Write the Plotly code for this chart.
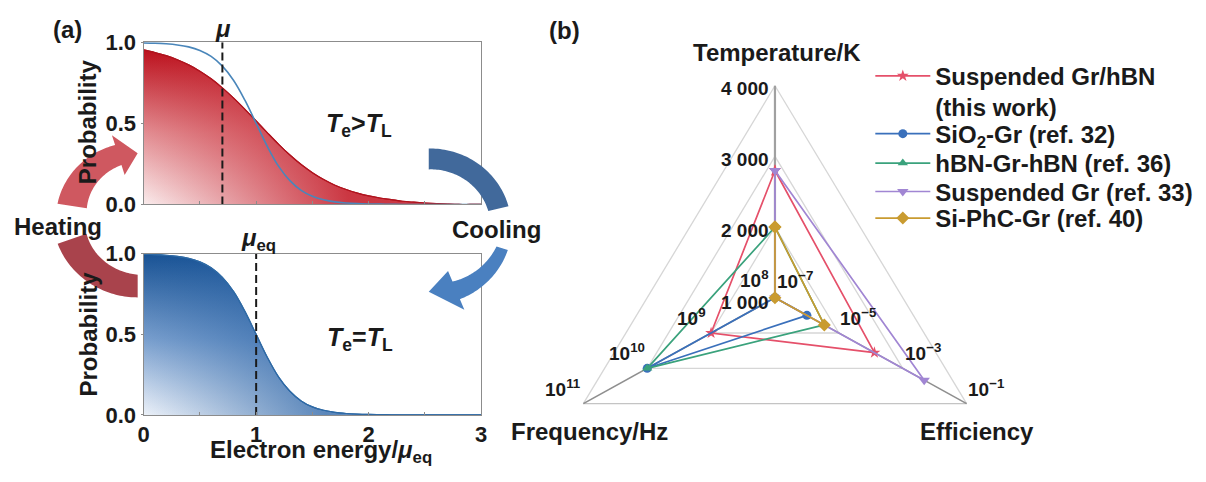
import numpy as np
import plotly.graph_objects as go

W, H = 1206, 482
FONT = "Liberation Sans, Arial, sans-serif"

# ---------------- Panel (a) data ----------------
energy = [0.0, 0.1, 0.2, 0.3, 0.4, 0.5, 0.6, 0.7, 0.8, 0.9, 1.0,
          1.1, 1.2, 1.3, 1.4, 1.5, 1.6, 1.7, 1.8, 1.9, 2.0,
          2.1, 2.2, 2.3, 2.4, 2.5, 2.6, 2.7, 2.8, 2.9, 3.0]
hot_occupation = [0.953, 0.937, 0.918, 0.893, 0.861, 0.822, 0.775, 0.719, 0.656, 0.587, 0.515,
                  0.442, 0.371, 0.305, 0.246, 0.196, 0.154, 0.119, 0.092, 0.070, 0.053,
                  0.040, 0.030, 0.020, 0.014, 0.009, 0.005, 0.002, 0.0, 0.0, 0.0]
cold_occupation = [0.997, 0.995, 0.991, 0.984, 0.972, 0.950, 0.913, 0.853, 0.765, 0.643, 0.500,
                   0.357, 0.235, 0.147, 0.087, 0.050, 0.029, 0.016, 0.009, 0.005, 0.003,
                   0.002, 0.001, 0.0, 0.0, 0.0, 0.0, 0.0, 0.0, 0.0, 0.0]
mu_hot = 0.7
mu_eq = 1.0
prob_ticks = [0.0, 0.5, 1.0]
prob_ticktext = ["0.0", "0.5", "1.0"]
energy_ticks = [0, 1, 2, 3]
energy_ticktext = ["0", "1", "2", "3"]

# ---------------- Panel (b) data ----------------
series_names = ["Suspended Gr/hBN<br>(this work)", "SiO<sub>2</sub>-Gr (ref. 32)",
                "hBN-Gr-hBN (ref. 36)", "Suspended Gr (ref. 33)", "Si-PhC-Gr (ref. 40)"]
temperature_K = [2800, 1000, 2000, 2800, 2000]
efficiency = [1.3e-4, 1.0e-6, 3.5e-6, 4.7e-3, 3.5e-6]
frequency_Hz = [1.0e9, 1.0e10, 1.0e10, 1.0e8, 1.0e8]
series_colors = ["#e5506a", "#3a70bb", "#3aa27c", "#a186d3", "#c99b30"]
series_symbols = ["star", "circle", "triangle-up", "triangle-down", "diamond"]
series_sizes = [9, 9, 9, 10, 10]

temp_ticks = [1000, 2000, 3000, 4000]
temp_ticktext = ["1 000", "2 000", "3 000", "4 000"]
freq_ticks = [1e8, 1e9, 1e10, 1e11]
freq_ticktext = ["10<sup>8</sup>", "10<sup>9</sup>", "10<sup>10</sup>", "10<sup>11</sup>"]
eff_ticks = [1e-7, 1e-5, 1e-3, 1e-1]
eff_ticktext = ["10<sup>−7</sup>", "10<sup>−5</sup>", "10<sup>−3</sup>", "10<sup>−1</sup>"]

# ---------------- helpers ----------------
def px(x, y):
    return x / W, 1 - y / H

T_MIN, T_MAX = 1000, 4000
F_MIN, F_MAX = 8, 11
E_MIN, E_MAX = -7, -1
ANG = {"T": 90, "E": -30, "F": 210}


def norm_T(t):
    return (t - T_MIN) / (T_MAX - T_MIN)


def norm_F(f):
    return (np.log10(f) - F_MIN) / (F_MAX - F_MIN)


def norm_E(e):
    return (np.log10(e) - E_MIN) / (E_MAX - E_MIN)


def polar_xy(r, axis):
    a = np.radians(ANG[axis])
    return r * np.cos(a), r * np.sin(a)


fig = go.Figure()

# ---------------- Panel (a) traces ----------------
RED_DARK = "rgb(188,18,30)"
BLUE_DARK = "rgb(24,82,148)"

fig.add_trace(go.Scatter(
    x=energy, y=hot_occupation, mode="lines", line=dict(color="rgb(175,20,30)", width=1.2, shape="spline"),
    fill="tozeroy",
    fillgradient=dict(type="vertical", start=0, stop=0.95,
                      colorscale=[[0, "rgb(253,248,248)"], [0.5, "rgb(226,140,145)"], [1, RED_DARK]]),
    showlegend=False, hoverinfo="skip", xaxis="x", yaxis="y"))
fig.add_trace(go.Scatter(
    x=energy, y=hot_occupation, mode="lines", line=dict(color="rgb(175,20,30)", width=1.2, shape="spline"),
    fill="tozeroy",
    fillgradient=dict(type="horizontal", start=0, stop=1.8,
                      colorscale=[[0, "rgba(195,25,38,0)"], [1, "rgba(195,25,38,0.85)"]]),
    showlegend=False, hoverinfo="skip", xaxis="x", yaxis="y"))
fig.add_trace(go.Scatter(
    x=energy, y=cold_occupation, mode="lines", line=dict(color="#4a86ba", width=1.6, shape="spline"),
    showlegend=False, hoverinfo="skip", xaxis="x", yaxis="y"))
fig.add_trace(go.Scatter(
    x=[mu_hot, mu_hot], y=[0, 1], mode="lines", line=dict(color="#1a1a1a", width=2, dash="8px,4px"),
    showlegend=False, hoverinfo="skip", xaxis="x", yaxis="y"))

fig.add_trace(go.Scatter(
    x=energy, y=cold_occupation, mode="lines", line=dict(color="#2f6aa5", width=1.2, shape="spline"),
    fill="tozeroy",
    fillgradient=dict(type="vertical", start=0, stop=1,
                      colorscale=[[0, "rgb(250,251,254)"], [0.5, "rgb(120,158,205)"], [1, BLUE_DARK]]),
    showlegend=False, hoverinfo="skip", xaxis="x2", yaxis="y2"))
fig.add_trace(go.Scatter(
    x=energy, y=cold_occupation, mode="lines", line=dict(color="#2f6aa5", width=1.2, shape="spline"),
    fill="tozeroy",
    fillgradient=dict(type="horizontal", start=0, stop=1.6,
                      colorscale=[[0, "rgba(30,90,160,0)"], [1, "rgba(30,90,160,0.7)"]]),
    showlegend=False, hoverinfo="skip", xaxis="x2", yaxis="y2"))
fig.add_trace(go.Scatter(
    x=[mu_eq, mu_eq], y=[0, 1], mode="lines", line=dict(color="#1a1a1a", width=2, dash="8px,4px"),
    showlegend=False, hoverinfo="skip", xaxis="x2", yaxis="y2"))

# ---------------- Panel (b) radar (cartesian projection) ----------------
shapes = []
GRID = "#d6d6d6"
for lvl in [1 / 3, 2 / 3, 1.0]:
    pts = [polar_xy(lvl, k) for k in ["T", "E", "F", "T"]]
    for (x0, y0), (x1, y1) in zip(pts[:-1], pts[1:]):
        col = GRID
        if lvl == 1.0 and abs(y0 - y1) < 1e-9:
            col = "#c4c4c4"
        shapes.append(dict(type="line", xref="x3", yref="y3", x0=x0, y0=y0, x1=x1, y1=y1,
                           line=dict(color=col, width=1.3), layer="below"))
for k, wdt, col in [("T", 2.2, "#a0a0a0"), ("E", 1.6, "#8f8f8f"), ("F", 1.6, "#8f8f8f")]:
    x1, y1 = polar_xy(1.0, k)
    shapes.append(dict(type="line", xref="x3", yref="y3", x0=0, y0=0, x1=x1, y1=y1,
                       line=dict(color=col, width=wdt), layer="below"))

legend_ids = ["legend", "legend2", "legend3", "legend4", "legend5"]
for i, name in enumerate(series_names):
    pT = polar_xy(norm_T(temperature_K[i]), "T")
    pE = polar_xy(norm_E(efficiency[i]), "E")
    pF = polar_xy(norm_F(frequency_Hz[i]), "F")
    xs = [pT[0], pE[0], pF[0], pT[0]]
    ys = [pT[1], pE[1], pF[1], pT[1]]
    fig.add_trace(go.Scatter(
        x=xs, y=ys, mode="lines+markers", name=name, legend=legend_ids[i],
        line=dict(color=series_colors[i], width=1.7),
        marker=dict(symbol=series_symbols[i], size=series_sizes[i], color=series_colors[i]),
        xaxis="x3", yaxis="y3", cliponaxis=False, hoverinfo="skip"))

# ---------------- Annotations ----------------
ann = []
BIG = 24


def add_text(text, x, y, size=BIG, xanchor="center", yanchor="middle", angle=0):
    xx, yy = px(x, y)
    ann.append(dict(text=text, x=xx, y=yy, xref="paper", yref="paper", showarrow=False,
                    xanchor=xanchor, yanchor=yanchor, textangle=angle,
                    font=dict(family=FONT, size=size, color="#1a1a1a", weight="bold")))


add_text("(a)", 62, 18)
add_text("(b)", 564, 20)
add_text("<i>μ</i>", 219, 17)
add_text("<i>μ</i><sub>eq</sub>", 255, 240)
add_text("<i>T</i><sub>e</sub>&gt;<i>T</i><sub>L</sub>", 357, 119, 25)
add_text("<i>T</i><sub>e</sub>=<i>T</i><sub>L</sub>", 358, 345, 25)
add_text("Probability", 83, 116, angle=-90)
add_text("Probability", 83, 340, angle=-90)
add_text("Electron energy/<i>μ</i><sub>eq</sub>", 318, 482, yanchor="bottom")
add_text("Heating", 53, 226)
add_text("Cooling", 495, 229)

add_text("Temperature/K", 779, 43)
add_text("Frequency/Hz", 589, 442)
add_text("Efficiency", 981, 442)

TK = 19
for v, t in zip(temp_ticks, temp_ticktext):
    x0, y0 = polar_xy(norm_T(v), "T")
    ann.append(dict(text=t, x=x0, y=y0, xref="x3", yref="y3", showarrow=False,
                    xanchor="right", yanchor="middle", xshift=-4,
                    yshift=-5 if v == T_MIN else -3,
                    font=dict(family=FONT, size=TK, color="#1a1a1a", weight="bold")))
for v, t in zip(freq_ticks, freq_ticktext):
    x0, y0 = polar_xy(norm_F(v), "F")
    ann.append(dict(text=t, x=x0, y=y0, xref="x3", yref="y3", showarrow=False,
                    xanchor="center", yanchor="middle", xshift=-20,
                    yshift=19 if v == freq_ticks[0] else 16,
                    font=dict(family=FONT, size=TK, color="#1a1a1a", weight="bold")))
for v, t in zip(eff_ticks, eff_ticktext):
    x0, y0 = polar_xy(norm_E(v), "E")
    ann.append(dict(text=t, x=x0, y=y0, xref="x3", yref="y3", showarrow=False,
                    xanchor="center", yanchor="middle", xshift=20,
                    yshift=18 if v == eff_ticks[0] else 16,
                    font=dict(family=FONT, size=TK, color="#1a1a1a", weight="bold")))


# ---------------- Curved heating / cooling arrows ----------------
def arc_arrow(cx, cy, a0, a1, ro0, ro1, ri0, ri1, head=None, n=48):
    t = np.linspace(0, 1, n)
    a = np.radians(a0 + (a1 - a0) * t)
    ro = ro0 + (ro1 - ro0) * t
    ri = ri0 + (ri1 - ri0) * t
    pts = [(cx + ro[i] * np.cos(a[i]), cy - ro[i] * np.sin(a[i])) for i in range(n)]
    if head is not None:
        hin, hout, ta, tr = head
        ae = np.radians(a1)
        at = np.radians(ta)
        pts.append((cx + hout * np.cos(ae), cy - hout * np.sin(ae)))
        pts.append((cx + tr * np.cos(at), cy - tr * np.sin(at)))
        pts.append((cx + hin * np.cos(ae), cy - hin * np.sin(ae)))
    pts += [(cx + ri[i] * np.cos(a[i]), cy - ri[i] * np.sin(a[i])) for i in range(n - 1, -1, -1)]
    return "M " + " L ".join(f"{x / W:.5f},{1 - y / H:.5f}" for x, y in pts) + " Z"


arrow_specs = [
    (arc_arrow(133, 215, 171, 107, 82, 78, 52, 56, head=(45, 89, 90, 66)), "#cf5860"),
    (arc_arrow(133, 215, 200, 270, 86, 86, 55, 62), "#a9434c"),
    (arc_arrow(427, 225, 90, 14, 81, 83, 59, 62), "#41699b"),
    (arc_arrow(427, 225, -18, -68, 84, 84, 72, 64, head=(52, 96, -90, 70)), "#4a80c0"),
]
for path, col in arrow_specs:
    shapes.append(dict(type="path", xref="paper", yref="paper", path=path,
                       fillcolor=col, line=dict(width=0), layer="above"))

# ---------------- Layout ----------------
axis_common = dict(showgrid=False, zeroline=False, showline=True, mirror=True,
                   linecolor="#8c8c8c", linewidth=1.2)
tickfont = dict(family=FONT, size=22, color="#1a1a1a", weight="bold")
minor_x = dict(ticks="inside", ticklen=3, tickcolor="#8c8c8c", dtick=0.5, tick0=0)

CX, CY, R = 776.7, 301.3, 223.5
RX0, RX1 = 540, 1014
RY0, RY1 = 60, 430

legend_tops = [76 - 32, 133 - 28, 164 - 28, 194 - 28, 222 - 28]
legend_layout = {}
for lid, top in zip(legend_ids, legend_tops):
    legend_layout[lid] = dict(x=873 / W, y=1 - top / H, xanchor="left", yanchor="top",
                              font=dict(family=FONT, size=24, color="#1a1a1a", weight="bold"),
                              bgcolor="rgba(0,0,0,0)", itemwidth=55, valign="top")

fig.update_layout(
    width=W, height=H, margin=dict(l=0, r=0, t=0, b=0),
    paper_bgcolor="white", plot_bgcolor="rgba(0,0,0,0)",
    font=dict(family=FONT, color="#1a1a1a"),
    xaxis=dict(domain=[139 / W, 480 / W], range=[0, 3], anchor="y", showticklabels=False,
               tickvals=energy_ticks, ticks="inside", ticklen=3, tickcolor="#8c8c8c",
               minor=minor_x, **axis_common),
    yaxis=dict(domain=[1 - 203 / H, 1 - 32 / H], range=[0, 1], anchor="x",
               tickvals=prob_ticks, ticktext=prob_ticktext, tickfont=tickfont,
               ticks="outside", ticklen=2, tickcolor="#8c8c8c", **axis_common),
    xaxis2=dict(domain=[139 / W, 480 / W], range=[0, 3], anchor="y2",
                tickvals=energy_ticks, ticktext=energy_ticktext, tickfont=tickfont,
                ticks="inside", ticklen=3, tickcolor="#8c8c8c", minor=minor_x,
                **axis_common),
    yaxis2=dict(domain=[1 - 425 / H, 1 - 255 / H], range=[0, 1], anchor="x2",
                tickvals=prob_ticks, ticktext=prob_ticktext, tickfont=tickfont,
                ticks="outside", ticklen=2, tickcolor="#8c8c8c", **axis_common),
    xaxis3=dict(domain=[RX0 / W, RX1 / W], range=[(RX0 - CX) / R, (RX1 - CX) / R],
                anchor="y3", visible=False, fixedrange=True),
    yaxis3=dict(domain=[1 - RY1 / H, 1 - RY0 / H], range=[(CY - RY1) / R, (CY - RY0) / R],
                anchor="x3", visible=False, fixedrange=True),
    shapes=shapes,
    annotations=ann,
    **legend_layout,
)

fig.write_html("out.html")
